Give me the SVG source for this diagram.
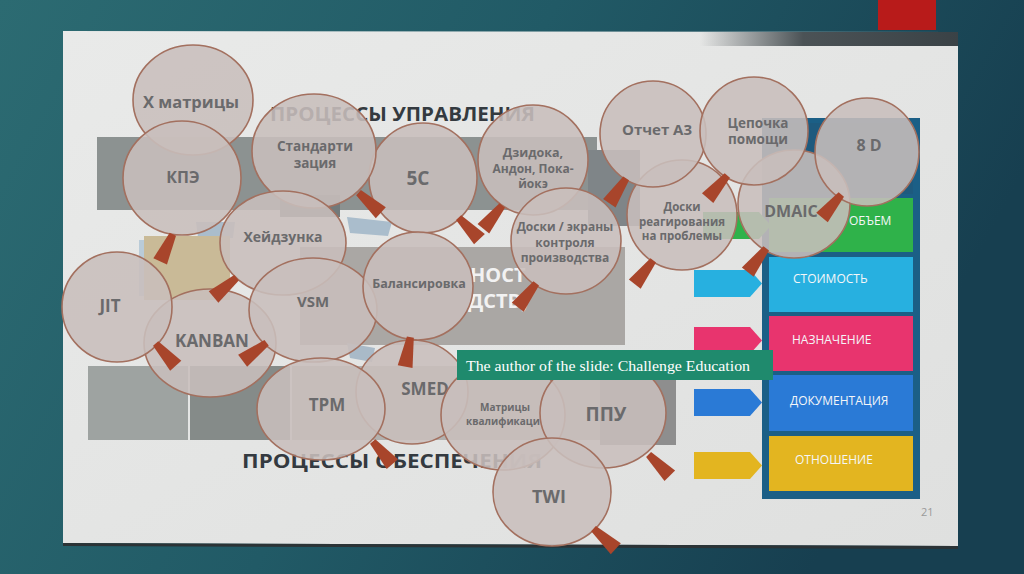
<svg xmlns="http://www.w3.org/2000/svg" xmlns:xlink="http://www.w3.org/1999/xlink" width="1024" height="574" viewBox="0 0 1024 574">
<defs>
<linearGradient id="bg" x1="0" y1="0" x2="1" y2="0.3">
<stop offset="0" stop-color="#2c6b72"/>
<stop offset="0.5" stop-color="#215a66"/>
<stop offset="1" stop-color="#173f50"/>
</linearGradient>
<linearGradient id="slide" x1="0" y1="0" x2="1" y2="1">
<stop offset="0" stop-color="#e9eae9"/>
<stop offset="1" stop-color="#dfe0df"/>
</linearGradient>
<linearGradient id="bezel" x1="0" y1="0" x2="1" y2="0">
<stop offset="0" stop-color="#3a4246" stop-opacity="0"/>
<stop offset="0.4" stop-color="#3a4246" stop-opacity="0.9"/>
<stop offset="1" stop-color="#3a4246"/>
</linearGradient>
<polygon id="handle" points="-2,-3.5 28,-7.5 28,7.5 -2,3.5"/>
<polygon id="arrow" points="0,0 56,0 68,13.5 56,27 0,27"/>
</defs>
<style>
.lens{fill:#c8bebc;fill-opacity:0.88;stroke:#a3705f;stroke-width:1.6}
.hd{fill:#a8452b}
.lt{font-family:"Open Sans","DejaVu Sans",sans-serif;font-weight:700;fill:#6a6a6c;text-anchor:middle}
.title{font-family:"Open Sans","DejaVu Sans",sans-serif;font-weight:700;fill:#343a40}
.box{font-family:"Open Sans","DejaVu Sans",sans-serif;font-size:12px;fill:#f4f6f8}
</style>

<!-- backdrop -->
<rect x="0" y="0" width="1024" height="574" fill="url(#bg)"/>
<rect x="878" y="0" width="58" height="30" fill="#b81b1a"/>
<polygon points="63,31 958,32 958,546 63,543" fill="url(#slide)"/>
<polygon points="63,543 958,546 958,549 63,546" fill="#2b3336"/>
<rect x="700" y="32" width="258" height="14" fill="url(#bezel)"/>

<!-- slide background bands -->
<g id="bands">
<rect x="97" y="137" width="500" height="73" fill="#8c9291"/>
<rect x="280" y="195" width="60" height="22" fill="#727a7b"/>
<rect x="588" y="150" width="52" height="76" fill="#7f8588"/>
<polygon points="196,222 235,222 233,238 198,238" fill="#aabdcc"/>
<polygon points="347,217 392,222 388,236 350,233" fill="#aabdcc"/>
<rect x="139" y="240" width="5" height="56" fill="#b9cbd8"/>
<rect x="144" y="236" width="86" height="64" fill="#c9ba97"/>
<rect x="300" y="247" width="325" height="98" fill="#aaa7a4"/>
<text x="470" y="282" font-family="Open Sans,DejaVu Sans,sans-serif" font-weight="700" font-size="20" fill="#f2f2f2">НОСТ</text>
<text x="468" y="308" font-family="Open Sans,DejaVu Sans,sans-serif" font-weight="700" font-size="20" fill="#f2f2f2">ДСТВ)</text>
<polygon points="347,343 375,348 372,362 350,358" fill="#a9bac8"/>
<rect x="88" y="366" width="100" height="74" fill="#9ea3a1"/>
<rect x="190" y="366" width="100" height="74" fill="#858b89"/>
<rect x="292" y="366" width="310" height="74" fill="#b1b0ae"/>
<rect x="600" y="350" width="76" height="95" fill="#8e8e8e"/>
<text class="title" x="270" y="121" font-size="19" textLength="265" lengthAdjust="spacingAndGlyphs">ПРОЦЕССЫ УПРАВЛЕНИЯ</text>
<text class="title" x="242" y="468" font-size="19" textLength="300" lengthAdjust="spacingAndGlyphs">ПРОЦЕССЫ ОБЕСПЕЧЕНИЯ</text>
</g>

<!-- right panel -->
<g id="panel">
<rect x="762" y="118" width="158" height="381" fill="#1b5f86"/>
<rect x="769" y="123" width="144" height="71" fill="#1e5a7e"/>
<rect x="769" y="198" width="144" height="54" fill="#2fb24a"/>
<rect x="769" y="257" width="144" height="55" fill="#27b0e0"/>
<rect x="769" y="316" width="144" height="55" fill="#e8346e"/>
<rect x="769" y="375" width="144" height="56" fill="#2a7ad6"/>
<rect x="769" y="436" width="144" height="55" fill="#e3b520"/>
<text class="box" x="849" y="225">ОБЪЕМ</text>
<text class="box" x="793" y="283">СТОИМОСТЬ</text>
<text class="box" x="792" y="344">НАЗНАЧЕНИЕ</text>
<text class="box" x="790" y="405">ДОКУМЕНТАЦИЯ</text>
<text class="box" x="795" y="464">ОТНОШЕНИЕ</text>
<use href="#arrow" x="703" y="212" fill="#2fb24a"/>
<use href="#arrow" x="694" y="270" fill="#27b0e0"/>
<use href="#arrow" x="694" y="327" fill="#e8346e"/>
<use href="#arrow" x="694" y="389" fill="#2a7ad6"/>
<use href="#arrow" x="694" y="452" fill="#e3b520"/>
<text x="921" y="516" font-family="Open Sans,DejaVu Sans,sans-serif" font-size="11" fill="#9a9a9a">21</text>
</g>

<!-- connectors: none (lens handles are part of each node) -->
<g id="connectors"></g>

<g id="n-xmatrix"><ellipse class="lens" cx="193" cy="100" rx="60" ry="55"/><text class="lt" x="191" y="108" font-size="16.5">Х матрицы</text></g>
<g id="n-kpe"><ellipse class="lens" cx="182" cy="178" rx="59" ry="57"/><text class="lt" x="183" y="183" font-size="16">КПЭ</text><use href="#handle" class="hd" transform="translate(172,236) rotate(115)"/></g>
<g id="n-5s"><ellipse class="lens" cx="423" cy="178" rx="54" ry="55"/><text class="lt" x="418" y="185" font-size="19">5С</text><use href="#handle" class="hd" transform="translate(460,219) rotate(46)"/></g>
<g id="n-std"><ellipse class="lens" cx="314" cy="151" rx="62" ry="57"/><text class="lt" x="315" y="151" font-size="13.5">Стандарти</text><text class="lt" x="315" y="168" font-size="13.5">зация</text><use href="#handle" class="hd" transform="translate(360,194) rotate(42)"/></g>
<g id="n-kanban"><ellipse class="lens" cx="210" cy="343" rx="66" ry="54"/><text class="lt" x="212" y="347" font-size="17">KANBAN</text></g>
<g id="n-heij"><ellipse class="lens" cx="283" cy="243" rx="63" ry="52"/><text class="lt" x="283" y="242" font-size="14">Хейдзунка</text><use href="#handle" class="hd" transform="translate(235,279) rotate(140)"/></g>
<g id="n-jit"><ellipse class="lens" cx="117" cy="307" rx="55" ry="55"/><text class="lt" x="110" y="312" font-size="17">JIT</text><use href="#handle" class="hd" transform="translate(157,345) rotate(48)"/></g>
<g id="n-vsm"><ellipse class="lens" cx="313" cy="310" rx="64" ry="52"/><text class="lt" x="313" y="307" font-size="15">VSM</text><use href="#handle" class="hd" transform="translate(265,344) rotate(143)"/></g>
<g id="n-smed"><ellipse class="lens" cx="412" cy="392" rx="56" ry="52"/><text class="lt" x="425" y="395" font-size="17">SMED</text></g>
<g id="n-balance"><ellipse class="lens" cx="418" cy="286" rx="55" ry="54"/><text class="lt" x="419" y="288" font-size="12.5">Балансировка</text><use href="#handle" class="hd" transform="translate(410,339) rotate(100)"/></g>
<g id="n-tpm"><ellipse class="lens" cx="321" cy="409" rx="64" ry="51"/><text class="lt" x="327" y="411" font-size="17">TPM</text><use href="#handle" class="hd" transform="translate(374,443) rotate(49)"/></g>
<g id="n-jidoka"><ellipse class="lens" cx="533" cy="160" rx="55" ry="55"/><text class="lt" x="533" y="157" font-size="12.5">Дзидока,</text><text class="lt" x="533" y="173" font-size="12">Андон, Пока-</text><text class="lt" x="533" y="188" font-size="12">йокэ</text><use href="#handle" class="hd" transform="translate(501,207) rotate(129)"/></g>
<g id="n-screens"><ellipse class="lens" cx="566" cy="241" rx="55" ry="53"/><text class="lt" x="565" y="231" font-size="12">Доски / экраны</text><text class="lt" x="565" y="247" font-size="12">контроля</text><text class="lt" x="565" y="262" font-size="12">производства</text><use href="#handle" class="hd" transform="translate(535,285) rotate(128)"/></g>
<g id="n-react"><ellipse class="lens" cx="682" cy="215" rx="55" ry="55"/><text class="lt" x="682" y="211" font-size="11.5">Доски</text><text class="lt" x="682" y="226" font-size="11.5">реагирования</text><text class="lt" x="682" y="240" font-size="11.5">на проблемы</text><use href="#handle" class="hd" transform="translate(652,262) rotate(128)"/></g>
<g id="n-a3"><ellipse class="lens" cx="653" cy="134" rx="53" ry="53"/><text class="lt" x="657" y="135" font-size="15">Отчет А3</text><use href="#handle" class="hd" transform="translate(625,180) rotate(124)"/></g>
<g id="n-dmaic"><ellipse class="lens" cx="794" cy="204" rx="56" ry="54"/><text class="lt" x="791" y="217" font-size="16">DMAIC</text><use href="#handle" class="hd" transform="translate(765,250) rotate(128)"/></g>
<g id="n-chain"><ellipse class="lens" cx="754" cy="131" rx="54" ry="54"/><text class="lt" x="758" y="128" font-size="13.5">Цепочка</text><text class="lt" x="758" y="144" font-size="13.5">помощи</text><use href="#handle" class="hd" transform="translate(726,177) rotate(131)"/></g>
<g id="n-8d"><ellipse class="lens" cx="867" cy="152" rx="52" ry="54"/><text class="lt" x="869" y="151" font-size="16">8 D</text><use href="#handle" class="hd" transform="translate(840,196) rotate(130)"/></g>
<g id="n-matrix"><ellipse class="lens" cx="503" cy="415" rx="62" ry="55"/><text class="lt" x="505" y="411" font-size="10">Матрицы</text><text class="lt" x="503" y="425" font-size="10">квалификаци</text></g>
<g id="n-ppu"><ellipse class="lens" cx="603" cy="413" rx="63" ry="55"/><text class="lt" x="606" y="421" font-size="19">ППУ</text><use href="#handle" class="hd" transform="translate(650,456) rotate(45)"/></g>
<g id="n-twi"><ellipse class="lens" cx="552" cy="492" rx="59" ry="54"/><text class="lt" x="549" y="503" font-size="18">TWI</text><use href="#handle" class="hd" transform="translate(595,530) rotate(42)"/></g>

<g id="banner">
<rect x="457" y="350" width="316" height="30" fill="#1f8a6d"/>
<text x="466" y="371" font-family="Liberation Serif,DejaVu Serif,serif" font-size="15" fill="#ffffff" textLength="284" lengthAdjust="spacingAndGlyphs">The author of the slide: Challenge Education</text>
</g>
</svg>
